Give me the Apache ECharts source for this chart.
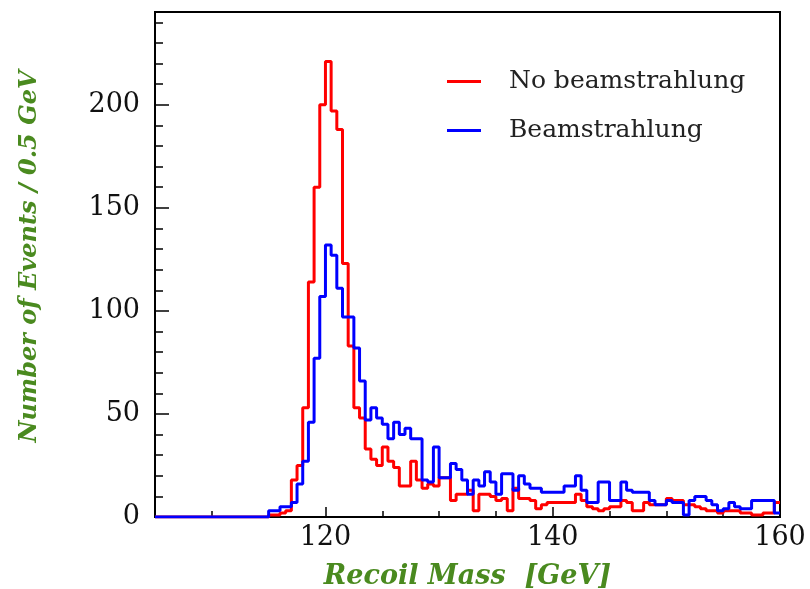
<!DOCTYPE html>
<html>
<head>
<meta charset="utf-8">
<script src="https://cdn.jsdelivr.net/npm/echarts@6/dist/echarts.min.js"></script>
<style>
html,body{margin:0;padding:0;background:#fff;}
#chart{width:810px;height:589px;}
</style>
</head>
<body>
<div id="chart"></div>
<script>
// Histogram binning (GeV)
const binStart = 105;
const binWidth = 0.5;
const xEnd = 160;

// Bin contents, bins 105.0 ... 159.5 (110 bins)
const noBeamstrahlung = [
  0,0,0,0,0,0,0,0,0,0,
  0,0,0,0,0,0,0,0,0,0,
  1,1,2,3,18,25,53,114,160,200,
  221,197,188,123,83,53,48,33,28,25,
  34,27,24,15,15,27,18,14,16,15,
  19,19,8,11,11,13,3,11,11,10,
  8,9,3,14,9,9,8,4,6,7,
  7,7,7,7,11,8,5,4,3,4,
  5,5,8,7,3,3,7,6,6,6,
  9,8,8,6,6,5,4,3,3,2,
  3,3,3,2,2,1,1,2,2,7
];
const beamstrahlung = [
  0,0,0,0,0,0,0,0,0,0,
  0,0,0,0,0,0,0,0,0,0,
  3,3,5,5,7,16,27,46,77,107,
  132,127,111,97,97,82,66,47,53,48,
  45,38,46,40,43,38,38,18,17,34,
  19,19,26,23,18,11,18,15,22,17,
  11,21,21,13,20,16,14,14,12,12,
  12,12,15,15,20,13,7,7,17,17,
  8,8,17,13,12,12,12,8,6,6,
  8,7,7,1,8,10,10,8,6,3,
  4,7,5,4,4,8,8,8,8,2
];

const seriesNames = ['No beamstrahlung', 'Beamstrahlung'];
const xLabelValues = [120, 140, 160];
const xMajorTicks = [120, 140];
const xMinorTicks = [110, 115, 125, 130, 135, 145, 150, 155];
const yMax = 245;

function toSteps(vals) {
  const pts = vals.map((v, i) => [binStart + i * binWidth, v]);
  pts.push([xEnd, vals[vals.length - 1]]);
  return pts;
}

const serif = 'DejaVu Serif';
const nameColor = '#4a8a1f';

const chart = echarts.init(document.getElementById('chart'), null, {renderer: 'canvas'});
chart.setOption({
  animation: false,
  backgroundColor: '#ffffff',
  grid: {left: 155, right: 30, top: 12, bottom: 72, containLabel: false, outerBoundsMode: 'none',
    show: true, borderColor: '#000', borderWidth: 2, backgroundColor: 'transparent'},
  legend: {
    orient: 'vertical', left: 442, top: 64, itemWidth: 34, itemHeight: 3, itemGap: 24,
    icon: 'rect',
    textStyle: {fontFamily: serif, fontSize: 25, color: '#222', padding: [0, 0, 0, 23]},
    data: seriesNames
  },
  xAxis: [
    {
      type: 'value', min: binStart, max: xEnd, position: 'bottom',
      axisLine: {show: true, lineStyle: {color: '#000', width: 2}},
      axisTick: {show: true, inside: true, length: 6, customValues: xMinorTicks, lineStyle: {color: '#000', width: 1.5}},
      axisLabel: {show: false},
      splitLine: {show: false}
    },
    {
      type: 'value', min: binStart, max: xEnd, position: 'bottom',
      axisLine: {show: false},
      axisTick: {show: true, inside: true, length: 10, customValues: xMajorTicks, lineStyle: {color: '#000', width: 1.5}},
      axisLabel: {show: true, customValues: xLabelValues, fontFamily: serif, fontSize: 27, color: '#111', margin: 7},
      splitLine: {show: false},
      name: 'Recoil Mass  [GeV]', nameLocation: 'middle', nameGap: 46,
      nameTextStyle: {fontFamily: serif, fontSize: 27, fontStyle: 'italic', fontWeight: 'bold', color: nameColor}
    }
  ],
  yAxis: [
    {
      type: 'value', min: 0, max: yMax, interval: 10, position: 'left',
      axisLine: {show: true, lineStyle: {color: '#000', width: 2}},
      axisTick: {show: true, inside: true, length: 8, lineStyle: {color: '#000', width: 1.5}},
      axisLabel: {show: false},
      splitLine: {show: false}
    },
    {
      type: 'value', min: 0, max: yMax, interval: 50, position: 'left',
      axisLine: {show: false},
      axisTick: {show: true, inside: true, length: 14, lineStyle: {color: '#000', width: 1.5}},
      axisLabel: {show: true, showMaxLabel: false, fontFamily: serif, fontSize: 27, color: '#111', margin: 15},
      splitLine: {show: false},
      name: 'Number of Events / 0.5 GeV', nameLocation: 'middle', nameGap: 113, nameRotate: 90,
      nameTextStyle: {fontFamily: serif, fontSize: 24, fontStyle: 'italic', fontWeight: 'bold', color: nameColor, padding: [0, 0, 0, 16]}
    }
  ],
  series: [
    {
      name: seriesNames[0], type: 'line', step: 'end', xAxisIndex: 0, yAxisIndex: 0,
      data: toSteps(noBeamstrahlung), showSymbol: false, symbol: 'none',
      color: '#ff0000', lineStyle: {color: '#ff0000', width: 3}, z: 3
    },
    {
      name: seriesNames[1], type: 'line', step: 'end', xAxisIndex: 0, yAxisIndex: 0,
      data: toSteps(beamstrahlung), showSymbol: false, symbol: 'none',
      color: '#0000ff', lineStyle: {color: '#0000ff', width: 3}, z: 4
    }
  ]
});
</script>
</body>
</html>
